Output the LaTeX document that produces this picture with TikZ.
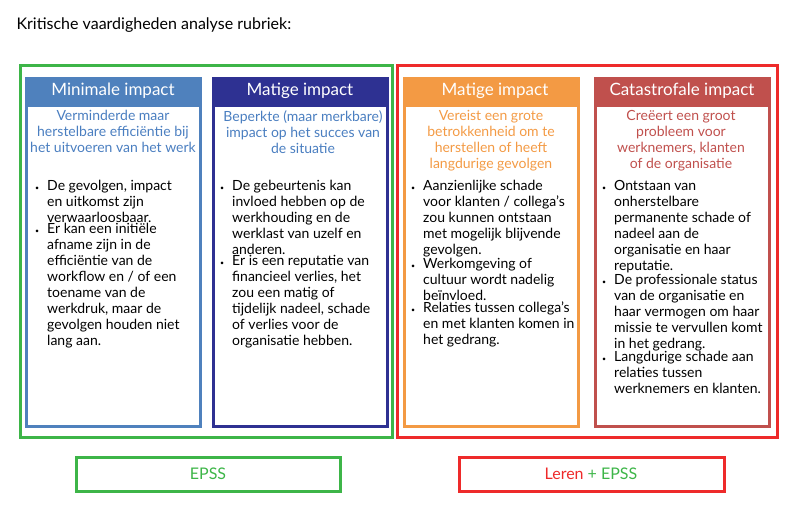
\documentclass[tikz,border=0pt]{standalone}
\usepackage{fontspec}
\setmainfont{Lato}
\definecolor{cg}{HTML}{3DB548}
\definecolor{cr}{HTML}{EE2A2A}
\definecolor{c1}{HTML}{4F81BD}
\definecolor{c2}{HTML}{2E3192}
\definecolor{c3}{HTML}{F39A44}
\definecolor{c4}{HTML}{C0504D}
\definecolor{s1}{HTML}{4A7EC0}
\newcommand{\bl}[1]{\par\noindent\makebox[14pt][l]{\hspace{2pt}\scriptsize\textbullet}\parbox[t]{156pt}{\raggedright\fontsize{14}{16}\selectfont #1}}
\newcommand{\bodybox}[1]{\begin{minipage}[t]{172pt}\raggedright\fontsize{14}{16}\selectfont #1\end{minipage}}
\begin{document}
\begin{tikzpicture}[x=1pt,y=-1pt,
 hdr/.style={anchor=center,text=white,font=\fontsize{17}{20}\selectfont},
 sub/.style={anchor=north,align=center,font=\fontsize{14}{16}\selectfont},
 body/.style={anchor=north west,inner sep=0pt},
 colbox/.style={line width=3pt}]
\useasboundingbox (0,0) rectangle (800,515);
\node[anchor=west,font=\fontsize{16}{18}\selectfont] (title) at (13,25) {Kritische vaardigheden analyse rubriek:};
\draw[cg,line width=3pt] (20,65) rectangle (392,437);
\draw[cr,line width=3pt] (397,65) rectangle (777,437);
\foreach \x/\c in {25/c1,212/c2,403/c3,594/c4}{
 \fill[\c] (\x,77) rectangle (\x+177,107);
 \draw[\c,colbox] (\x+1.5,78.5) rectangle (\x+175.5,426.5);
}
\node[hdr] (h1) at (113,91) {Minimale impact};
\node[hdr] (h2) at (300,91) {Matige impact};
\node[hdr] (h3) at (495,91) {Matige impact};
\node[hdr] (h4) at (682,91) {Catastrofale impact};
\node[sub,text=s1] (s1) at (113,107) {Verminderde maar\\herstelbare efficiëntie bij\\het uitvoeren van het werk};
\node[sub,text=s1] (s2) at (303,107) {Beperkte (maar merkbare)\\impact op het succes van\\de situatie};
\node[sub,text=c3] (s3) at (491,107) {Vereist een grote\\betrokkenheid om te\\herstellen of heeft\\langdurige gevolgen};
\node[sub,text=c4] (s4) at (681,107) {Creëert een groot\\probleem voor\\werknemers, klanten\\of de organisatie};
\node[body] (b1) at (33,180) {\bodybox{\bl{De gevolgen, impact\\en uitkomst zijn\\verwaarloosbaar.}\bl{Er kan een initiële\\afname zijn in de\\efficiëntie van de\\workflow en / of een\\toename van de\\werkdruk, maar de\\gevolgen houden niet\\lang aan.}}};
\node[body] (b2) at (218,180) {\bodybox{\bl{De gebeurtenis kan\\invloed hebben op de\\werkhouding en de\\werklast van uzelf en\\anderen.}\bl{Er is een reputatie van\\financieel verlies, het\\zou een matig of\\tijdelijk nadeel, schade\\of verlies voor de\\organisatie hebben.}}};
\node[body] (b3) at (409,180) {\bodybox{\bl{Aanzienlijke schade\\voor klanten / collega’s\\zou kunnen ontstaan\\met mogelijk blijvende\\gevolgen.}\bl{Werkomgeving of\\cultuur wordt nadelig\\beïnvloed.}\bl{Relaties tussen collega’s\\en met klanten komen in\\het gedrang.}}};
\node[body] (b4) at (600,180) {\bodybox{\bl{Ontstaan van\\onherstelbare\\permanente schade of\\nadeel aan de\\organisatie en haar\\reputatie.}\bl{De professionale status\\van de organisatie en\\haar vermogen om haar\\missie te vervullen komt\\in het gedrang.}\bl{Langdurige schade aan\\relaties tussen\\werknemers en klanten.}}};
\draw[cg,line width=3pt] (76,457) rectangle (340,491);
\node[text=cg,font=\fontsize{16}{18}\selectfont] (e1) at (208,474) {EPSS};
\draw[cr,line width=3pt] (459,457) rectangle (724,491);
\node[font=\fontsize{16}{18}\selectfont] (e2) at (591,474) {\textcolor{cr}{Leren} \textcolor{cg}{+ EPSS}};
\end{tikzpicture}
\end{document}
